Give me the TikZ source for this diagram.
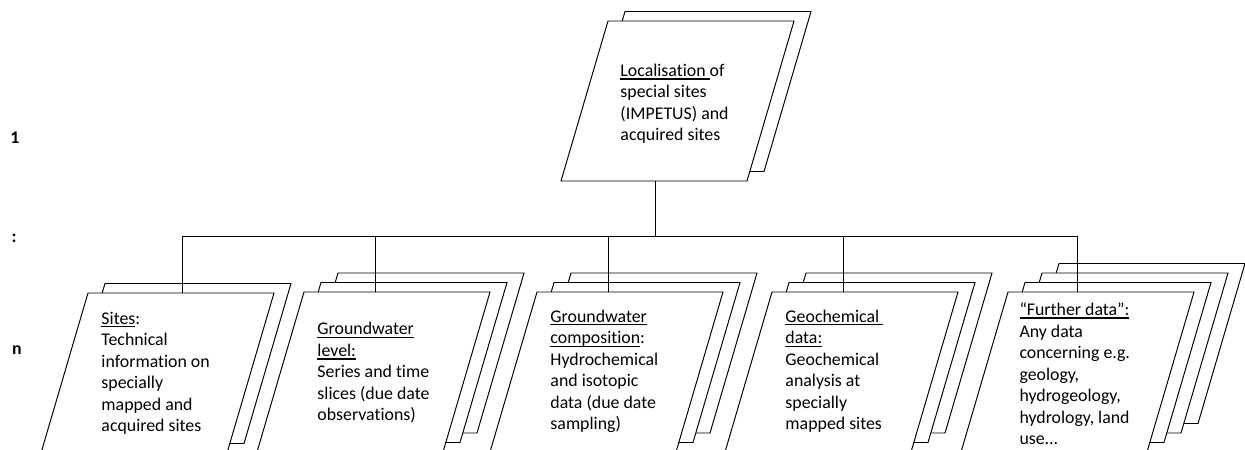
\documentclass[tikz,border=0pt]{standalone}
\usepackage{fontspec}
\setmainfont{Carlito}[Ligatures=NoCommon]
\usetikzlibrary{positioning}

% underline that keeps a fixed distance from the baseline
\newcommand{\ulhead}[1]{\setbox0=\hbox{#1}\rlap{\rule[-2pt]{\wd0}{0.9pt}}\box0}

\tikzset{
  pics/sheets/.style={code={
    \foreach \k in {#1,...,0}
      \draw[sheet] ({17*\k},{-9.5*\k}) -- ++(186,0) -- ++(-47,160) -- ++(-186,0) -- cycle;
  }}
}

\begin{document}
\begin{tikzpicture}[x=0.617pt, y=-0.617pt, line width=0.6pt,
    sheet/.style={draw=black, fill=white, line join=miter},
    note/.style={anchor=base west, inner sep=0pt, align=left,
      font=\fontsize{11pt}{13.3pt}\selectfont},
    side/.style={font=\bfseries\fontsize{11pt}{13.3pt}\selectfont}]
  \useasboundingbox (0,0) rectangle (1245,450);

  % stacked sheets, back ones first
  \pic at (608,21) {sheets=1};
  \pic at (88,293) {sheets=1};
  \pic at (304,292) {sheets=2};
  \pic at (537,292) {sheets=2};
  \pic at (772,292) {sheets=2};
  \pic at (1008,292) {sheets=3};

  % texts sit on the baseline of their last line
  \node[note] (loc) at (620,141) {\ulhead{Localisation\ }of\\special sites\\(IMPETUS) and\\acquired sites};
  \node[note] (sites) at (101,432) {\ulhead{Sites}:\\Technical\\information on\\specially\\mapped and\\acquired sites};
  \node[note] (gwlevel) at (317,421) {\ulhead{Groundwater}\\\ulhead{level:}\\Series and time\\slices (due date\\observations)};
  \node[note] (gwcomp) at (550,430) {\ulhead{Groundwater}\\\ulhead{composition}:\\Hydrochemical\\and isotopic\\data (due date\\sampling)};
  \node[note] (geochem) at (785,430) {\ulhead{Geochemical\ }\\\ulhead{data:}\\Geochemical\\analysis at\\specially\\mapped sites};
  \node[note] (further) at (1019,445) {\ulhead{“Further data”:}\\Any data\\concerning e.g.\\geology,\\hydrogeology,\\hydrology, land\\use...};

  % cardinality on the left
  \node[side] (one) at (15,138) {1};
  \node[side] (dots) at (14,238) {:};
  \node[side] (en) at (17,350) {n};

  % tree lines
  \coordinate (locfoot) at (655,181);
  \coordinate (bus) at (655,236);
  \coordinate (sitestop) at (182,293);
  \coordinate (gwleveltop) at (375,292);
  \coordinate (gwcomptop) at (608,292);
  \coordinate (geochemtop) at (843,292);
  \coordinate (furthertop) at (1077,292);
  \draw (locfoot) -- (bus);
  \draw (sitestop) -- (sitestop |- bus) -- (furthertop |- bus) -- (furthertop);
  \foreach \t in {gwleveltop, gwcomptop, geochemtop}
    \draw (\t) -- (\t |- bus);
\end{tikzpicture}
\end{document}
